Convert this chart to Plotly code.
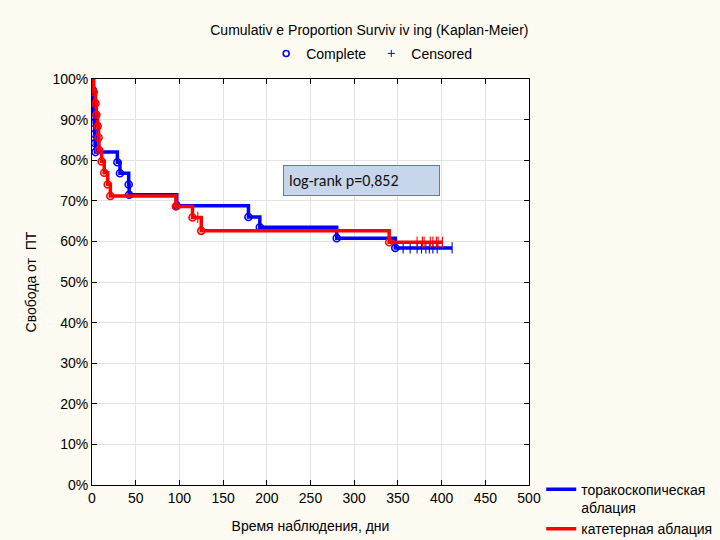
import plotly.graph_objects as go

# ---- data ----
blue_event_t = [1, 1.5, 2, 2.5, 3, 3.5, 4, 29, 32, 42, 42.5, 97, 179, 192, 280, 347]
blue_event_s = [97.3, 94.6, 91.9, 89.2, 86.5, 84.2, 82.0, 79.5, 76.8, 74.0, 71.5, 68.8, 66.0, 63.5, 60.8, 58.4]
blue_cens_t = [356, 364, 372, 377, 382, 386, 390, 395, 412]

red_event_t = [2, 4, 5, 6.5, 7.5, 8, 11, 14, 18, 21, 96, 115, 125, 340]
red_event_s = [96.8, 94.0, 91.2, 88.4, 85.6, 82.5, 79.7, 76.9, 74.0, 71.2, 68.6, 65.9, 62.6, 59.8]
red_cens_t = [121, 372, 378, 380, 387, 390, 394, 396, 401]

x_ticks = [0, 50, 100, 150, 200, 250, 300, 350, 400, 450, 500]
y_ticks = [0, 10, 20, 30, 40, 50, 60, 70, 80, 90, 100]

BLUE = "#0000FF"
RED = "#FF0000"
FONT = "Liberation Sans, Arial"


def km_step(ev_t, ev_s, cens_t):
    end_t = max(ev_t + cens_t)
    xs = [0] + list(ev_t) + [end_t]
    ys = [100] + list(ev_s) + [ev_s[-1]]
    return xs, ys


def surv_at(t, ev_t, ev_s):
    s = 100
    for et, es in zip(ev_t, ev_s):
        if et <= t:
            s = es
    return s


fig = go.Figure()

for name, ev_t, ev_s, cens_t, col in [
    ("торакоскопическая<br>аблация", blue_event_t, blue_event_s, blue_cens_t, BLUE),
    ("катетерная аблация", red_event_t, red_event_s, red_cens_t, RED),
]:
    xs, ys = km_step(ev_t, ev_s, cens_t)
    fig.add_trace(go.Scatter(x=xs, y=ys, mode="lines", line=dict(color=col, width=3.5, shape="hv"),
                             name=name, legend="legend", hoverinfo="skip"))
    fig.add_trace(go.Scatter(x=ev_t, y=ev_s, mode="markers",
                             marker=dict(symbol="circle-open", size=7, color=col, line=dict(width=1.6, color=col)),
                             showlegend=False, hoverinfo="skip"))
    fig.add_trace(go.Scatter(x=cens_t, y=[surv_at(t, ev_t, ev_s) for t in cens_t], mode="markers",
                             marker=dict(symbol="line-ns-open", size=8, color=col, line=dict(width=1.1, color=col)),
                             showlegend=False, hoverinfo="skip"))

# top legend (Complete / Censored)
fig.add_trace(go.Scatter(x=[None], y=[None], mode="markers", name="Complete",
                         marker=dict(symbol="circle-open", size=6, color=BLUE, line=dict(width=1.6, color=BLUE)),
                         legend="legend2"))
fig.add_trace(go.Scatter(x=[None], y=[None], mode="markers", name="Censored",
                         marker=dict(symbol="cross-thin-open", size=5, color=BLUE, line=dict(width=1, color=BLUE)),
                         legend="legend2"))

fig.add_annotation(x=218, y=75, xref="x", yref="y", xanchor="left", yanchor="middle",
                   text="log-rank p=0,852", showarrow=False, align="left",
                   font=dict(family="Carlito, Liberation Sans, Arial", size=16, color="#111111"),
                   bgcolor="#C7D6EB", bordercolor="#5B7DB0", borderwidth=1, borderpad=5,
                   width=145, height=19)

axis_common = dict(showline=True, linecolor="black", linewidth=1, mirror="ticks",
                   ticks="inside", ticklen=5, tickcolor="black",
                   showgrid=True, gridcolor="#E3E3E3", gridwidth=1, zeroline=False,
                   tickfont=dict(family=FONT, size=14, color="black"))

fig.update_layout(
    width=720, height=540,
    margin=dict(l=92, r=191, t=79, b=55, autoexpand=False),
    paper_bgcolor="#FEFBF2", plot_bgcolor="white",
    title=dict(text="Cumulativ e Proportion Surviv iv ing (Kaplan-Meier)", x=0.513, xanchor="center",
               y=0.944, yanchor="middle",
               font=dict(family=FONT, size=14, color="black")),
    xaxis=dict(range=[0, 500], tickvals=x_ticks, ticktext=[str(v) for v in x_ticks],
               title=dict(text="Время наблюдения, дни", standoff=16,
                          font=dict(family=FONT, size=14, color="black")),
               **axis_common),
    yaxis=dict(range=[0, 100], tickvals=y_ticks, ticktext=[f"{v}%" for v in y_ticks],
               title=dict(text="Свобода от  ПТ", standoff=12,
                          font=dict(family=FONT, size=14, color="black")),
               **axis_common),
    legend=dict(x=1.028, y=0.028, xanchor="left", yanchor="top", bgcolor="rgba(0,0,0,0)",
                valign="top", tracegroupgap=0, itemwidth=30,
                font=dict(family=FONT, size=14, color="black")),
    legend2=dict(x=0.64, y=1.062, xanchor="center", yanchor="middle", orientation="h",
                 bgcolor="rgba(0,0,0,0)", itemwidth=30,
                 font=dict(family=FONT, size=14, color="black")),
    showlegend=True,
)

fig.write_html("out.html")
